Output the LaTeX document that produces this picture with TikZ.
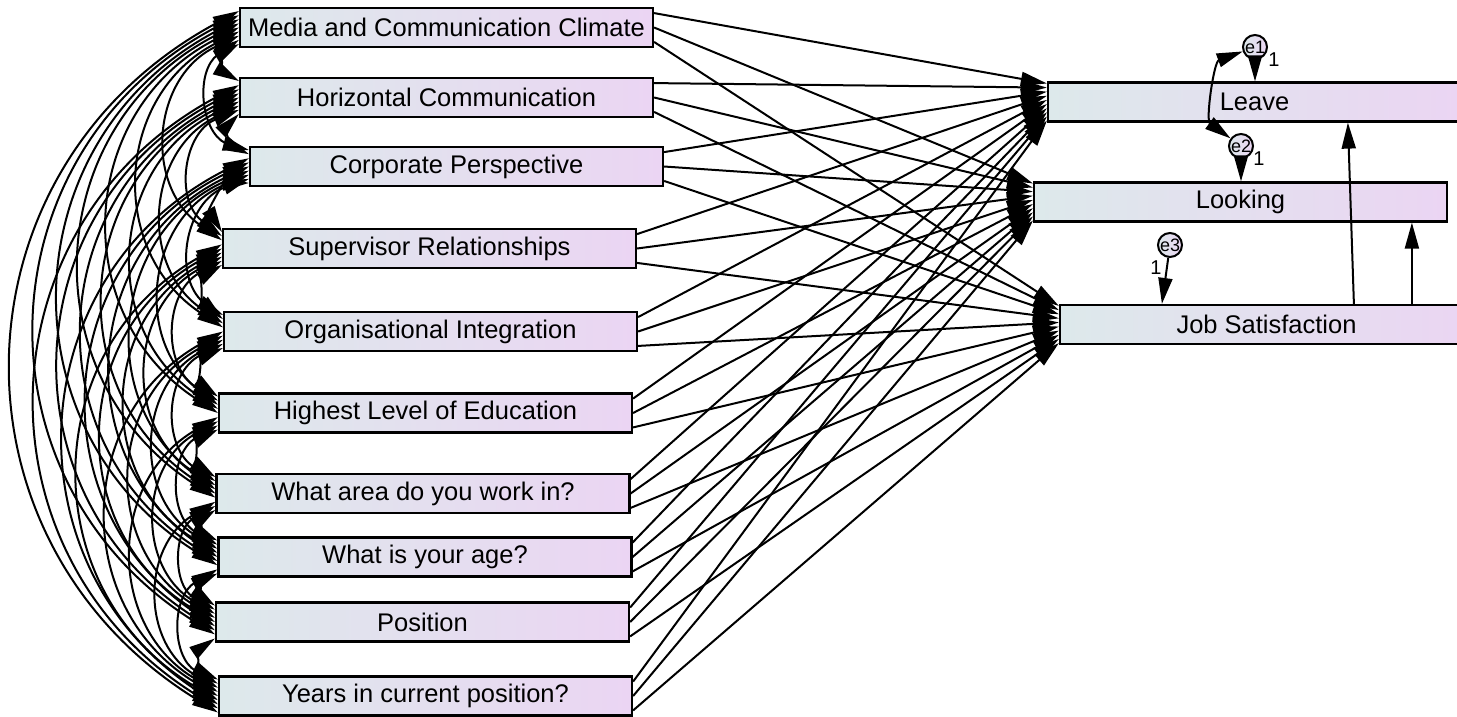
\documentclass[tikz,border=0pt]{standalone}
\usepackage{fontspec}
\setmainfont{Liberation Sans}
\usetikzlibrary{arrows.meta,calc}
\definecolor{gl}{RGB}{221,233,235}
\definecolor{gr}{RGB}{235,213,243}
\begin{document}
\begin{tikzpicture}[x=1pt,y=-1pt,
  var/.style={draw, line width=2.2pt, rectangle, minimum width=413pt, minimum height=39pt, inner sep=0pt, left color=gl, right color=gr, font=\fontsize{25.5}{30}\selectfont},
  err/.style={draw, line width=2pt, circle, minimum size=24pt, inner sep=0pt, left color=gl, right color=gr, font=\fontsize{18}{20}\selectfont},
  arr/.style={line width=2pt, -{Triangle[length=26pt,width=14pt]}},
  cov/.style={line width=2pt, {Triangle[length=26pt,width=14pt]}-{Triangle[length=26pt,width=14pt]}},
  one/.style={font=\fontsize{20}{22}\selectfont, inner sep=0pt}]
\useasboundingbox (0,0) rectangle (1457,716);
% exogenous
\node[var] (b1) at (446.5,27.5) {Media and Communication Climate};
\node[var] (b2) at (446.5,97.5) {Horizontal Communication};
\node[var] (b3) at (456.5,166.5) {Corporate Perspective};
\node[var] (b4) at (429.5,248.5) {Supervisor Relationships};
\node[var] (b5) at (430.5,331.5) {Organisational Integration};
\node[var] (b6) at (425.5,413) {Highest Level of Education};
\node[var] (b7) at (423,493.5) {What area do you work in?};
\node[var] (b8) at (425,557) {What is your age?};
\node[var] (b9) at (422.5,622) {Position};
\node[var] (b10) at (425.5,696) {Years in current position?};
% endogenous
\node[var] (leave) at (1254.5,102) {Leave};
\node[var] (looking) at (1240.5,202) {Looking};
\node[var] (js) at (1266.5,324.5) {Job Satisfaction};
% errors
\node[err] (e1) at (1255,47) {e1};
\node[err] (e2) at (1241,146) {e2};
\node[err] (e3) at (1170,245) {e3};
\node[one] (l1) at (1274,60) {1};
\node[one] (l2) at (1259,159) {1};
\node[one] (l3) at (1156,268) {1};
% structural paths
\foreach \i in {1,...,10} {
  \pgfmathsetmacro{\f}{(\i-0.5)/10}
  \draw[arr] ($(b\i.north east)!0.15!(b\i.south east)$) -- ($(leave.north west)!\f!(leave.south west)$);
  \draw[arr] ($(b\i.north east)!0.5!(b\i.south east)$) -- ($(looking.north west)!\f!(looking.south west)$);
  \draw[arr] ($(b\i.north east)!0.85!(b\i.south east)$) -- ($(js.north west)!\f!(js.south west)$);
}
% covariances
\foreach \i in {1,...,9} {
  \pgfmathtruncatemacro{\s}{\i+1}
  \foreach \j in {\s,...,10} {
    \pgfmathsetmacro{\fa}{1-(\j-\i)/10}
    \pgfmathsetmacro{\fb}{(\j-\i)/10}
    \draw[cov] ($(b\i.north west)!\fa!(b\i.south west)$) to[bend right=60, looseness=1.2] ($(b\j.north west)!\fb!(b\j.south west)$);
  }
}
% JS to Leave / Looking
\coordinate (jsa) at ($(js.north west)+(295,0)$);
\coordinate (lva) at ($(leave.south west)+(301,0)$);
\coordinate (jsb) at ($(js.north west)+(353,0)$);
\coordinate (lkb) at ($(looking.south west)+(379,0)$);
\draw[arr] (jsa) -- (lva);
\draw[arr] (jsb) -- (lkb);
% error paths
\draw[arr] (e1) -- (e1 |- leave.north);
\draw[arr] (e2) -- (e2 |- looking.north);
\coordinate (jse) at ($(js.north west)+(103,0)$);
\draw[arr] (e3) -- (jse);
\draw[cov] (e1) to[bend right=62, looseness=0.9] (e2);
\end{tikzpicture}
\end{document}
